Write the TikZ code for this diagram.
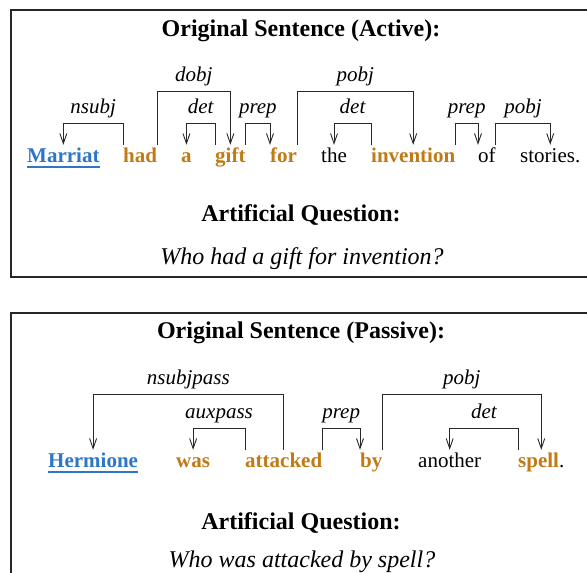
\documentclass[tikz,border=0pt]{standalone}
\usepackage{fontspec}
\setmainfont{Liberation Serif}
\usetikzlibrary{arrows.meta}
\definecolor{wblue}{RGB}{45,118,200}
\definecolor{worange}{RGB}{192,122,22}
\definecolor{lcol}{RGB}{40,40,40}
\tikzset{
  word/.style={anchor=base west, inner sep=0pt, text height=17pt, text depth=4pt,
    font=\fontsize{21}{24}\selectfont},
  kw/.style={word, font=\fontsize{21}{24}\selectfont\bfseries, text=worange},
  subj/.style={word, font=\fontsize{21}{24}\selectfont\bfseries, text=wblue},
  dep/.style={draw=lcol, line width=0.9pt, -{Straight Barb[length=10pt,width=7pt]}},
  lbl/.style={pos=0.25, anchor=base, inner sep=0pt, yshift=10pt,
    font=\fontsize{21}{24}\selectfont\itshape, text=black},
  head/.style={anchor=base, inner sep=0pt, font=\fontsize{24}{28}\selectfont\bfseries},
  quest/.style={anchor=base, inner sep=0pt, font=\fontsize{24}{28}\selectfont\itshape},
  frame/.style={draw=black!85, line width=1.3pt},
  uline/.style={draw=wblue, line width=1.2pt},
}
\begin{document}
\begin{tikzpicture}[x=1pt,y=1pt]
\useasboundingbox (0,0) rectangle (587,-573);
\clip (0,0) rectangle (587,-573);
\draw[frame] (11,-10) rectangle (600,-277);
\draw[frame] (11,-313) rectangle (600,-600);

% ---------- Active ----------
\node[head] (h1) at (301,-36) {Original Sentence (Active):};
\node[subj] (Marriat) at (27,-162) {Marriat};
\node[kw] (had) at (123,-162) {had};
\node[kw] (a) at (181,-162) {a};
\node[kw] (gift) at (215,-162) {gift};
\node[kw] (for) at (270,-162) {for};
\node[word] (the) at (321,-162) {the};
\node[kw] (invention) at (371,-162) {invention};
\node[word] (of) at (478,-162) {of};
\node[word] (sto) at (520,-162) {stories.};
\draw[uline] ([yshift=-5pt]Marriat.base west) -- ([yshift=-5pt]Marriat.base east);

\draw[dep] (had.north west) -- ++(0,21) -| node[lbl]{nsubj} (Marriat.north);
\draw[dep] (had.north east) -- ++(0,53) -| node[lbl]{dobj} (gift.north);
\draw[dep] (gift.north west) -- ++(0,21) -| node[lbl]{det} (a.north);
\draw[dep] (gift.north east) -- ++(0,21) -| node[lbl]{prep} (for.north west);
\draw[dep] (for.north east) -- ++(0,53) -| node[lbl]{pobj} (invention.north);
\draw[dep] (invention.north west) -- ++(0,21) -| node[lbl]{det} (the.north);
\draw[dep] (invention.north east) -- ++(0,21) -| node[lbl]{prep} (of.north west);
\draw[dep] (of.north east) -- ++(0,21) -| node[lbl]{pobj} (sto.north);

\node[head] (q1h) at (301,-221) {Artificial Question:};
\node[quest] (q1) at (302,-264) {Who had a gift for invention?};

% ---------- Passive ----------
\node[head] (h2) at (301,-338) {Original Sentence (Passive):};
\node[subj] (Hermione) at (48,-467) {Hermione};
\node[kw] (was) at (176,-467) {was};
\node[kw] (attacked) at (245,-467) {attacked};
\node[kw] (by) at (360,-467) {by};
\node[word] (another) at (418,-467) {another};
\node[word] (spell) at (518,-467) {\textbf{\color{worange}spell}.};
\draw[uline] ([yshift=-5pt]Hermione.base west) -- ([yshift=-5pt]Hermione.base east);

\draw[dep] (attacked.north) -- ++(0,55) -| node[lbl]{nsubjpass} (Hermione.north);
\draw[dep] (attacked.north west) -- ++(0,21) -| node[lbl]{auxpass} (was.north);
\draw[dep] (attacked.north east) -- ++(0,21) -| node[lbl]{prep} (by.north west);
\draw[dep] (by.north east) -- ++(0,55) -| node[lbl]{pobj} (spell.north);
\draw[dep] (spell.north west) -- ++(0,21) -| node[lbl]{det} (another.north);

\node[head] (q2h) at (301,-529) {Artificial Question:};
\node[quest] (q2) at (302,-567) {Who was attacked by spell?};
\end{tikzpicture}
\end{document}
